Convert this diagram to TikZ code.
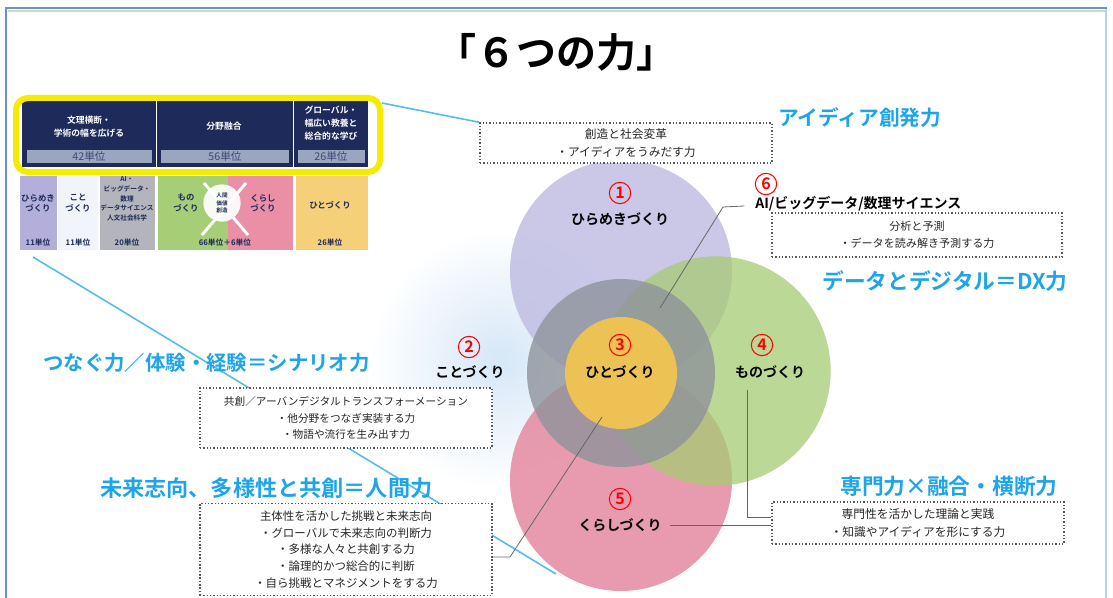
\documentclass[tikz,border=0pt]{standalone}
\usepackage{fontspec}
\setmainfont{Noto Sans CJK JP}[BoldFont={Noto Sans CJK JP Bold}]
\definecolor{frameblue}{HTML}{6A8FD8}
\definecolor{framegreen}{HTML}{C8E0A8}
\definecolor{navyc}{HTML}{1D2A5A}
\definecolor{barblue}{HTML}{9AA5BE}
\definecolor{hlyellow}{HTML}{F5EB00}
\definecolor{headblue}{HTML}{1EA5E9}
\definecolor{linkblue}{HTML}{55BDE8}
\definecolor{cLav}{HTML}{B3AEDA}
\definecolor{cLight}{HTML}{F1F5FB}
\definecolor{cGray}{HTML}{B4B4BC}
\definecolor{cGreen}{HTML}{A6CE77}
\definecolor{cPink}{HTML}{EA8FA6}
\definecolor{cOrange}{HTML}{F6CF79}
\definecolor{vLav}{HTML}{C1BEE3}
\definecolor{vPink}{HTML}{E58AA1}
\definecolor{vGreen}{HTML}{A6CB73}
\definecolor{vGray}{HTML}{8F939C}
\definecolor{vYellow}{HTML}{F2C451}
\definecolor{vBlue}{HTML}{D6E7F7}
\begin{document}
\begin{tikzpicture}[x=0.75pt,y=-0.75pt,
  dotbox/.style={draw=black!65, fill=white, line width=1.1pt, dash pattern=on 1.1pt off 1.4pt, inner sep=0pt, align=center, text=black!85},
  head/.style={text=headblue, font=\bfseries\fontsize{#1}{#1}\selectfont, inner sep=0pt, anchor=west},
  numc/.style={circle, draw=red, line width=0.8pt, text=red, font=\bfseries\fontsize{12}{12}\selectfont, inner sep=0pt, minimum size=16pt},
  clabel/.style={font=\bfseries\fontsize{10.5}{10.5}\selectfont, inner sep=0pt},
  conn/.style={draw=black!60, line width=0.6pt},
  link/.style={draw=linkblue, line width=1.2pt},
  vc/.style={circle, inner sep=0pt, draw=none},
  celltxt/.style={font=\bfseries\fontsize{6.3}{7.6}\selectfont, text=navyc, align=center, inner sep=0pt},
  unittxt/.style={font=\bfseries\fontsize{5.8}{6}\selectfont, text=navyc, inner sep=0pt},
  hdtxt/.style={font=\bfseries\fontsize{6.6}{9.5}\selectfont, text=white, align=center, inner sep=0pt},
  bartxt/.style={font=\fontsize{8}{8}\selectfont, text=navyc!85, inner sep=0pt}]
\useasboundingbox (0,0) rectangle (1113,598);
\fill[white] (0,0) rectangle (1113,598);
% frame
\draw[framegreen, line width=1.5pt] (8,11.5) -- (1106,11.5);
\draw[frameblue!45, line width=0.8pt] (1106,8) -- (1106,598);
\draw[frameblue, line width=1.5pt] (6,598) -- (6,8) -- (1107,8);
% title
\node[font=\bfseries\fontsize{30}{30}\selectfont, inner sep=0pt] (title) at (556,52) {「６つの力」};

% long blue link (drawn below everything else)
\coordinate (la) at (33,257);
\coordinate (lb) at (556,574);
\draw[link] (la) -- (lb);

% ---------- Venn circles ----------
\shade[inner color=vBlue, outer color=white] (500,360) circle (130);
\node[vc, fill=vLav, fill opacity=0.85, minimum size=166.5pt] (c1) at (621,271) {};
\node[vc, fill=vPink, fill opacity=0.85, minimum size=166.5pt] (c5) at (621,480) {};
\node[vc, fill=vGreen, fill opacity=0.75, minimum size=172pt] (c4) at (716,371) {};
\node[vc, fill=vGray, fill opacity=0.8, minimum size=141pt] (c6) at (621,373) {};
\node[vc, fill=vYellow, fill opacity=0.95, minimum size=84pt] (c3) at (621,373) {};

% labels in circles
\node[numc] (n1) at (620,193) {1};
\node[clabel] (hirameki) at (620,219) {ひらめきづくり};
\node[numc] (n2) at (469,347) {2};
\node[clabel] (koto) at (470,372) {ことづくり};
\node[numc] (n3) at (620,345) {3};
\node[clabel] (hito) at (620,372) {ひとづくり};
\node[numc] (n4) at (762,345) {4};
\node[clabel] (mono) at (770,372) {ものづくり};
\node[numc] (n5) at (620,499) {5};
\node[clabel] (kurashi) at (620,525) {くらしづくり};
\node[numc] (n6) at (766,184) {6};
\node[font=\bfseries\fontsize{10.5}{10.5}\selectfont, inner sep=0pt, anchor=west] (ai) at (755,204) {AI/ビッグデータ/数理サイエンス};

% ---------- dotted boxes ----------
\node[dotbox, minimum width=219pt, minimum height=30pt, font=\fontsize{8.8}{13.5}\selectfont] (boxA) at (626,143) {創造と社会変革\\・アイディアをうみだす力};
\node[dotbox, minimum width=217.5pt, minimum height=33pt, font=\fontsize{8.3}{12.5}\selectfont] (boxB) at (917,235) {分析と予測\\・データを読み解き予測する力};
\node[dotbox, minimum width=219pt, minimum height=45pt, font=\fontsize{8}{12.3}\selectfont] (boxC) at (346,418) {共創／アーバンデジタルトランスフォーメーション\\・他分野をつなぎ実装する力\\・物語や流行を生み出す力};
\node[dotbox, minimum width=219pt, minimum height=69pt, font=\fontsize{8.6}{12.5}\selectfont] (boxD) at (346,549.5) {主体性を活かした挑戦と未来志向\\・グローバルで未来志向の判断力\\・多様な人々と共創する力\\・論理的かつ総合的に判断\\・自ら挑戦とマネジメントをする力};
\node[dotbox, minimum width=219pt, minimum height=31.5pt, font=\fontsize{8.8}{14}\selectfont] (boxE) at (918,523) {専門性を活かした理論と実践\\・知識やアイディアを形にする力};

% ---------- headings ----------
\node[head=15.5] (hA) at (778,118) {アイディア創発力};
\node[head=16.3] (hB) at (822,281) {データとデジタル＝DX力};
\node[head=15.3] (hC) at (43,363) {つなぐ力／体験・経験＝シナリオ力};
\node[head=16.6] (hD) at (100,488) {未来志向、多様性と共創＝人間力};
\node[head=16.3] (hE) at (840,486) {専門力×融合・横断力};

% ---------- connectors ----------
\coordinate (k6a) at (723,207);
\coordinate (k6b) at (660,308);
\draw[conn] ([xshift=-8pt,yshift=-1.5pt]ai.west) -- (k6a) -- (k6b);
\coordinate (k4a) at (747,390);
\coordinate (k4b) at (747,517);
\draw[conn] (k4a) -- (k4b) -- (k4b -| boxE.west);
\coordinate (k5a) at (670,525);
\draw[conn] (k5a) -- (k5a -| boxE.west);
\coordinate (k3a) at (602,417);
\coordinate (k3b) at (510,557);
\draw[conn] (k3a) -- (k3b) -- (k3b -| boxD.east);

% ---------- credit table ----------
\fill[cLav] (20,176) rectangle (57,250);
\fill[cLight] (58,176) rectangle (98,250);
\fill[cGray] (100,176) rectangle (155,250);
\fill[cGreen] (158,176) rectangle (228,250);
\fill[cPink] (228,176) rectangle (293,250);
\fill[cOrange] (296,176) rectangle (368,250);
\draw[white, line width=2.2pt] (204,183) -- (248,235);
\draw[white, line width=2.2pt] (246,183) -- (202,235);
\node[circle, fill=white, fill opacity=0.92, text opacity=1, minimum size=28pt, inner sep=0pt, font=\bfseries\fontsize{4.2}{5.8}\selectfont, text=navyc, align=center] (wcirc) at (222,203) {人間\\価値\\創造};
\node[celltxt] (t1) at (38,203) {ひらめき\\づくり};
\node[celltxt] (t2) at (78,203) {こと\\づくり};
\node[celltxt, font=\bfseries\fontsize{5}{7.2}\selectfont] (t3) at (127,199) {AI・\\ビッグデータ・\\数理\\データサイエンス\\人文社会科学};
\node[celltxt] (t4) at (186,203) {もの\\づくり};
\node[celltxt] (t5) at (263,203) {くらし\\づくり};
\node[celltxt] (t6) at (330,205) {ひとづくり};
\node[unittxt] (u1) at (38,243) {11単位};
\node[unittxt] (u2) at (78,243) {11単位};
\node[unittxt] (u3) at (127,243) {20単位};
\node[unittxt] (u4) at (225,243) {66単位＋6単位};
\node[unittxt] (u5) at (330,243) {26単位};
\fill[navyc] (22,101) rectangle (368,167);
\draw[white, line width=0.8pt] (156.5,101) -- (156.5,167);
\draw[white, line width=0.8pt] (293.5,101) -- (293.5,167);
\fill[barblue] (27,150) rectangle (152,163);
\fill[barblue] (161,150) rectangle (289,163);
\fill[barblue] (298,150) rectangle (365,163);
\node[hdtxt] (h1) at (89,127) {文理横断・\\学術の幅を広げる};
\node[hdtxt] (h2) at (224,126) {分野融合};
\node[hdtxt] (h3) at (331,123) {グローバル・\\幅広い教養と\\総合的な学び};
\node[bartxt] (b1) at (89,156.5) {42単位};
\node[bartxt] (b2) at (225,156.5) {56単位};
\node[bartxt] (b3) at (331,156.5) {26単位};
\draw[hlyellow, line width=4.5pt, rounded corners=9pt] (16,98) rectangle (380,172);
\coordinate (hlcorner) at (382,103);

% short blue link
\draw[link] (hlcorner) -- (boxA.north west);
\end{tikzpicture}
\end{document}
